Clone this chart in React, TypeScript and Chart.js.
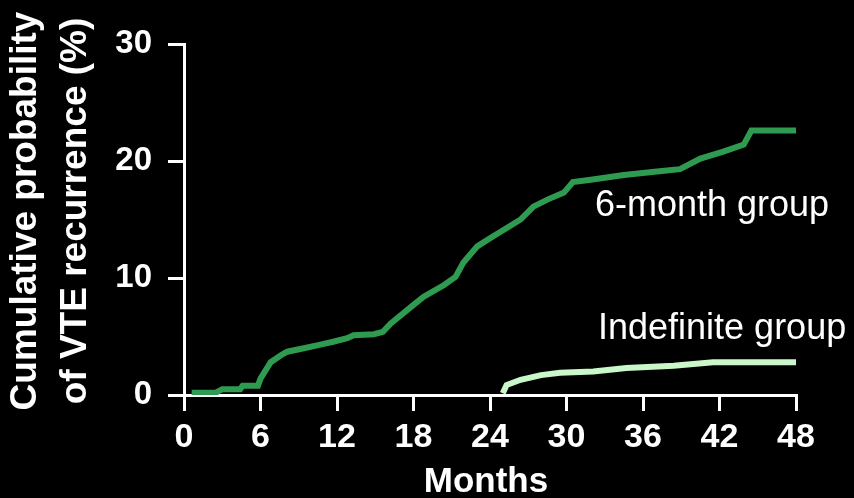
import React, { useEffect, useRef } from 'react';
import { Chart, registerables } from 'chart.js';

Chart.register(...registerables);

// ---- data ----
const monthTicks = [0, 6, 12, 18, 24, 30, 36, 42, 48];
const percentTicks = [0, 10, 20, 30];

const sixMonthMonths = [0.6, 2.5, 3.0, 4.4, 4.6, 5.8, 6.0, 6.8, 7.6, 8.1, 9.4, 10.7, 11.7, 12.8, 13.3, 14.9, 15.6, 16.2, 18.0, 18.8, 20.4, 21.3, 21.9, 23.0, 24.0, 26.4, 27.4, 28.5, 29.8, 30.5, 31.9, 34.5, 37.1, 38.9, 40.5, 42.3, 43.9, 44.5, 48.0];
const sixMonthPct = [0.2, 0.2, 0.5, 0.5, 0.8, 0.8, 1.4, 2.8, 3.4, 3.7, 4.0, 4.3, 4.55, 4.85, 5.1, 5.2, 5.4, 6.1, 7.7, 8.4, 9.4, 10.1, 11.3, 12.7, 13.4, 15.0, 16.1, 16.7, 17.3, 18.2, 18.4, 18.8, 19.1, 19.3, 20.2, 20.8, 21.4, 22.6, 22.6];

const indefMonths = [25.0, 25.3, 26.4, 28.0, 29.5, 32.1, 34.7, 38.4, 41.5, 48.0];
const indefPct = [0.15, 0.85, 1.3, 1.7, 1.9, 2.0, 2.3, 2.5, 2.8, 2.8];

const seriesNames = ['6-month group', 'Indefinite group'];
const xTitle = 'Months';
const yTitleLines = ['Cumulative probability', 'of VTE recurrence (%)'];

const DARK_GREEN = '#2f9b50';
const LIGHT_GREEN = '#c9f7c9';
const FONT = '"Liberation Sans", Arial, Helvetica, sans-serif';

const textPlugin = {
  id: 'customText',
  afterDraw(chart: any) {
    const ctx = chart.ctx as CanvasRenderingContext2D;
    ctx.save();
    ctx.fillStyle = '#ffffff';
    // y title (rotated, two lines)
    ctx.font = `bold 37px ${FONT}`;
    ctx.textAlign = 'center';
    ctx.textBaseline = 'alphabetic';
    const yc = 211;
    const baselines = [36, 86];
    yTitleLines.forEach((line, i) => {
      ctx.save();
      ctx.translate(baselines[i], yc);
      ctx.rotate(-Math.PI / 2);
      ctx.fillText(line, 0, 0);
      ctx.restore();
    });
    // x title
    ctx.font = `bold 35px ${FONT}`;
    ctx.textAlign = 'center';
    ctx.fillText(xTitle, 486, 492);
    // series labels
    ctx.font = `36px ${FONT}`;
    ctx.textAlign = 'left';
    ctx.fillText(seriesNames[0], 595, 216);
    ctx.fillText(seriesNames[1], 598, 339);
    ctx.restore();
  },
};

export default function App() {
  const canvasRef = useRef<HTMLCanvasElement | null>(null);

  useEffect(() => {
    document.body.style.margin = '0';
    document.body.style.background = '#000';
    const canvas = canvasRef.current;
    if (!canvas) return;
    const chart = new Chart(canvas, {
      type: 'line',
      data: {
        datasets: [
          {
            label: seriesNames[0],
            data: sixMonthMonths.map((m, i) => ({ x: m, y: sixMonthPct[i] })),
            borderColor: DARK_GREEN,
            borderWidth: 6,
            pointRadius: 0,
            tension: 0,
            fill: false,
          },
          {
            label: seriesNames[1],
            data: indefMonths.map((m, i) => ({ x: m, y: indefPct[i] })),
            borderColor: LIGHT_GREEN,
            borderWidth: 6,
            pointRadius: 0,
            tension: 0,
            fill: false,
          },
        ],
      },
      options: {
        responsive: false,
        animation: false,
        layout: { padding: { left: 0, right: 58, top: 44, bottom: 0 } },
        plugins: {
          legend: { display: false },
          tooltip: { enabled: false },
        },
        scales: {
          x: {
            type: 'linear',
            min: 0,
            max: 48,
            afterBuildTicks: (scale: any) => {
              scale.ticks = monthTicks.map((v) => ({ value: v }));
            },
            afterFit: (scale: any) => {
              scale.height = 103;
            },
            grid: {
              drawOnChartArea: false,
              drawTicks: true,
              tickLength: 16,
              color: '#ffffff',
              lineWidth: 3,
            },
            border: { display: true, color: '#ffffff', width: 3 },
            ticks: {
              color: '#ffffff',
              font: { family: FONT, size: 34, weight: 'bold' },
              padding: 6,
              maxRotation: 0,
              autoSkip: false,
            },
          },
          y: {
            type: 'linear',
            min: 0,
            max: 30,
            afterBuildTicks: (scale: any) => {
              scale.ticks = percentTicks.map((v) => ({ value: v }));
            },
            afterFit: (scale: any) => {
              scale.width = 184;
            },
            grid: {
              drawOnChartArea: false,
              drawTicks: true,
              tickLength: 16,
              color: '#ffffff',
              lineWidth: 3,
            },
            border: { display: true, color: '#ffffff', width: 3 },
            ticks: {
              color: '#ffffff',
              font: { family: FONT, size: 33, weight: 'bold' },
              padding: 16,
              autoSkip: false,
            },
          },
        },
      },
      plugins: [textPlugin],
    } as any);
    return () => chart.destroy();
  }, []);

  return (
    <div style={{ position: 'absolute', left: 0, top: 0, width: 854, height: 498, background: '#000' }}>
      <canvas ref={canvasRef} width={854} height={498} style={{ display: 'block' }} />
    </div>
  );
}
